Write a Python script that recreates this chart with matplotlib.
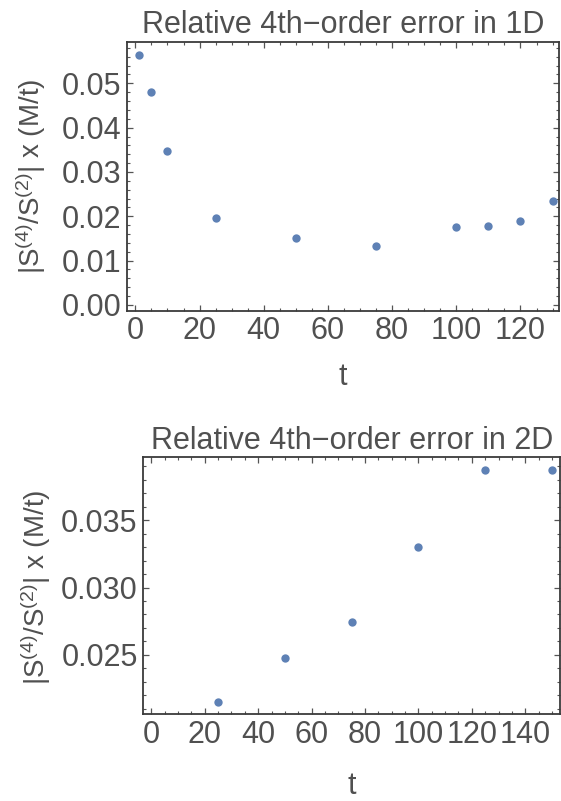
import matplotlib
matplotlib.use("Agg")
import matplotlib.pyplot as plt
from matplotlib.ticker import MultipleLocator, FormatStrFormatter

# ---- data ----
t_1d = [1, 5, 10, 25, 50, 75, 100, 110, 120, 130]
err_1d = [0.0564, 0.0481, 0.0348, 0.0196, 0.0151, 0.0134, 0.0175, 0.0178, 0.0189, 0.0234]

t_2d = [25, 50, 75, 100, 125, 150]
err_2d = [0.02148, 0.02478, 0.02741, 0.03301, 0.03871, 0.03871]

title_1d = "Relative 4th\u2212order error in 1D"
title_2d = "Relative 4th\u2212order error in 2D"
ylabel = r"$|S^{(4)}/S^{(2)}|$ x (M/t)"
xlabel = "t"

# ---- style ----
plt.rcParams["font.family"] = ["Liberation Sans", "DejaVu Sans"]
plt.rcParams["mathtext.fontset"] = "custom"
plt.rcParams["mathtext.rm"] = "Liberation Sans"
plt.rcParams["mathtext.it"] = "Liberation Sans"
plt.rcParams["mathtext.bf"] = "Liberation Sans:bold"
plt.rcParams["mathtext.default"] = "regular"

TXT = "#505050"
FRAME = "#3a3a3a"
PT = "#5E81B5"
W, H = 561, 801

fig = plt.figure(figsize=(W / 100, H / 100), dpi=100)


def make_ax(l, r, t, b):
    return fig.add_axes([l / W, 1 - b / H, (r - l) / W, (b - t) / H])


def style(ax, xmaj, xmin_, ymaj, ymin_, yfmt):
    for s in ax.spines.values():
        s.set_color(FRAME)
        s.set_linewidth(1.3)
    ax.xaxis.set_major_locator(MultipleLocator(xmaj))
    ax.xaxis.set_minor_locator(MultipleLocator(xmin_))
    ax.yaxis.set_major_locator(MultipleLocator(ymaj))
    ax.yaxis.set_minor_locator(MultipleLocator(ymin_))
    ax.yaxis.set_major_formatter(FormatStrFormatter(yfmt))
    ax.tick_params(which="both", direction="in", top=True, right=True,
                   color="#555555", labelcolor=TXT, labelsize=22)
    ax.tick_params(which="major", length=4.5, width=0.9)
    ax.tick_params(which="minor", length=2.5, width=0.8)
    ax.tick_params(axis="x", which="major", pad=4)
    ax.tick_params(axis="y", which="major", pad=4)


# top panel
ax1 = make_ax(126.7, 559, 41.7, 310.7)
ax1.plot(t_1d, err_1d, "o", color=PT, markersize=6, markeredgewidth=0, clip_on=False)
ax1.set_xlim(-2.7, 132)
ax1.set_ylim(-0.0013, 0.0594)
style(ax1, 20, 5, 0.01, 0.002, "%.2f")
ax1.set_title(title_1d, fontsize=22, color=TXT, pad=6)
ax1.set_xlabel(xlabel, fontsize=22, color=TXT, va="center")
ax1.xaxis.set_label_coords(0.5, -66 / 269)
fig.text(31 / W, 1 - 176 / H, ylabel, rotation=90, ha="center", va="center",
         fontsize=20, color=TXT)

# bottom panel
ax2 = make_ax(143.3, 560, 457, 714.3)
ax2.plot(t_2d, err_2d, "o", color=PT, markersize=6, markeredgewidth=0, clip_on=False)
ax2.set_xlim(-3, 153)
ax2.set_ylim(0.02058, 0.0397)
style(ax2, 20, 5, 0.005, 0.001, "%.3f")
ax2.set_title(title_2d, fontsize=22, color=TXT, pad=6)
ax2.set_xlabel(xlabel, fontsize=22, color=TXT, va="center")
ax2.xaxis.set_label_coords(0.5, -(786 - 714.3) / 257.3)
fig.text(36 / W, 1 - 587 / H, ylabel, rotation=90, ha="center", va="center",
         fontsize=20, color=TXT)

fig.savefig("out.png", dpi=100)
